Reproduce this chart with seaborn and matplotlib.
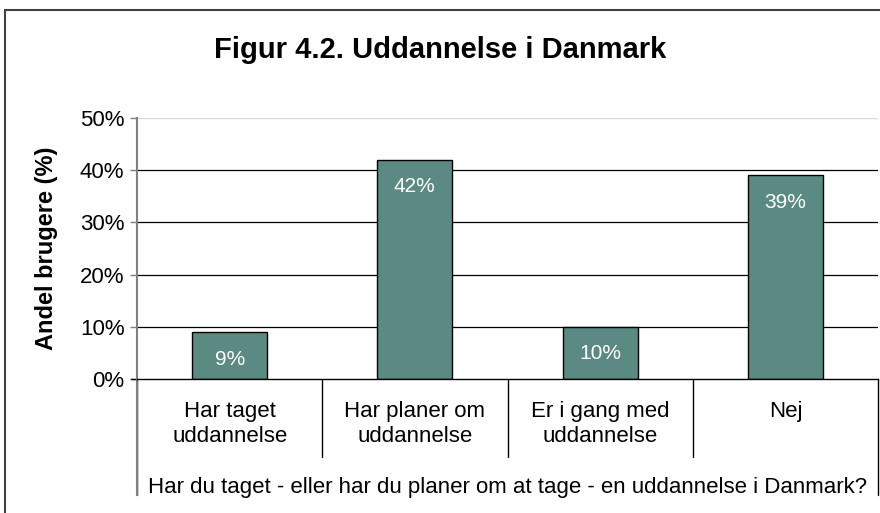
import matplotlib
matplotlib.use("Agg")
import matplotlib.pyplot as plt
import matplotlib.patches as mpatches
import matplotlib.transforms as mtransforms
import pandas as pd
import seaborn as sns
from matplotlib.ticker import PercentFormatter

# Data
categories = ["Har taget\nuddannelse", "Har planer om\nuddannelse", "Er i gang med\nuddannelse", "Nej"]
shares = [0.09, 0.42, 0.10, 0.39]
value_labels = ["9%", "42%", "10%", "39%"]
y_ticks = [0.0, 0.1, 0.2, 0.3, 0.4, 0.5]

title = "Figur 4.2. Uddannelse i Danmark"
y_title = "Andel brugere (%)"
x_title = "Har du taget - eller har du planer om at tage - en uddannelse i Danmark?"

bar_color = "#5B8A82"

sns.set_style("white")
plt.rcParams["font.family"] = ["Liberation Sans", "DejaVu Sans"]
plt.rcParams["text.color"] = "black"
plt.rcParams["axes.labelcolor"] = "black"

df = pd.DataFrame({"kategori": categories, "andel": shares})

fig = plt.figure(figsize=(8.8, 5.13), dpi=100)
ax = fig.add_axes([137 / 880, 1 - 379 / 513, 741 / 880, 261 / 513])

sns.barplot(data=df, x="kategori", y="andel", color=bar_color, saturation=1,
            width=0.405, edgecolor="black", linewidth=1.0, ax=ax)

ax.set_ylim(0, 0.5)
ax.set_xlim(-0.5, len(categories) - 0.5)
ax.set_yticks(y_ticks)
ax.yaxis.set_major_formatter(PercentFormatter(1.0, decimals=0))
ax.tick_params(axis="y", labelsize=16, length=5, width=1, color="#808080",
               direction="out", left=True, pad=4, labelcolor="black")
ax.tick_params(axis="x", bottom=False, labelbottom=False)

# Gridlines
for t in y_ticks[1:-1]:
    ax.axhline(t, color="black", linewidth=0.9, zorder=0)
ax.axhline(0.5, color="#D9D9D9", linewidth=1.0, zorder=0)

for side in ["top", "right"]:
    ax.spines[side].set_visible(False)
ax.spines["left"].set_color("#808080")
ax.spines["left"].set_linewidth(1.5)
ax.spines["bottom"].set_color("black")
ax.spines["bottom"].set_linewidth(1.0)

# Value labels inside bars
for i, (v, lab) in enumerate(zip(shares, value_labels)):
    ax.text(i, v - 0.052, lab, ha="center", va="center", color="white", fontsize=15)

ax.set_xlabel("")
ax.set_ylabel(y_title, fontsize=17, fontweight="bold")
ax.yaxis.set_label_coords(-0.106, 0.5)

# Category labels and separators (multi-level axis)
trans = mtransforms.blended_transform_factory(ax.transData, ax.transAxes)
for i, cat in enumerate(categories):
    ax.text(i, -0.085, cat, transform=trans, ha="center", va="top",
            fontsize=16, linespacing=1.25)
for k in range(len(categories) + 1):
    xs = k - 0.5
    low = -0.30 if 0 < k < len(categories) else -0.445
    ax.plot([xs, xs], [0, low], transform=trans, color="black",
            linewidth=1.0, clip_on=False)
ax.plot([-0.5, -0.5], [0, -0.445], transform=trans, color="#808080",
        linewidth=1.5, clip_on=False)
ax.plot([-0.53, -0.5], [0, 0], transform=trans, color="black", linewidth=1.0, clip_on=False)

ax.text(0.5, -0.414, x_title, transform=ax.transAxes, ha="center", va="center",
        fontsize=16)

fig.text(0.5, 1 - 50 / 513, title, ha="center", va="center", fontsize=21,
         fontweight="bold")

# Chart border
fig.patches.append(mpatches.Rectangle((5 / 880, -0.1), 1.2, 1 - 10 / 513 + 0.1,
                                      transform=fig.transFigure, fill=False,
                                      edgecolor="#404040", linewidth=1.5))

fig.savefig("out.png", dpi=100)
plt.close(fig)
